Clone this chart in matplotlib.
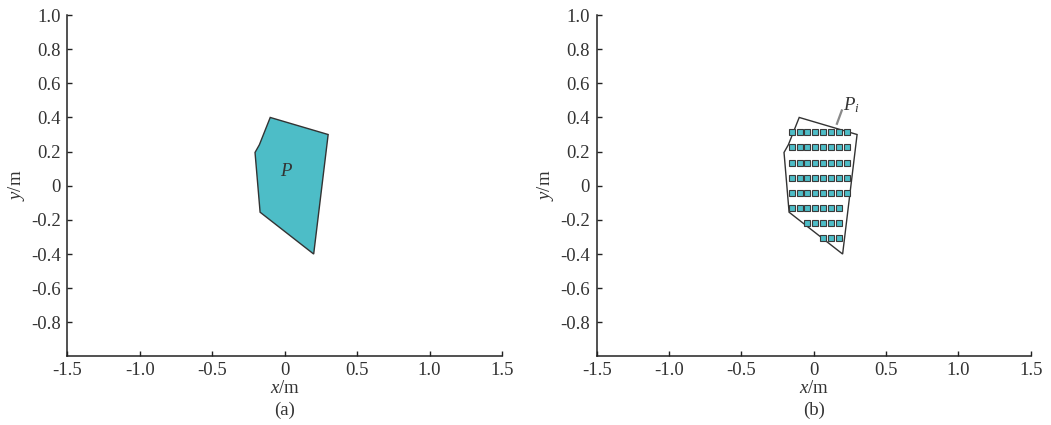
import matplotlib
matplotlib.use("Agg")
import matplotlib.pyplot as plt
from matplotlib.patches import Polygon

plt.rcParams['font.family'] = ['Liberation Serif', 'DejaVu Serif']
plt.rcParams['mathtext.fontset'] = 'custom'
plt.rcParams['mathtext.it'] = 'Liberation Serif:italic'
plt.rcParams['mathtext.rm'] = 'Liberation Serif'
plt.rcParams['axes.unicode_minus'] = False

# ---- data ----
poly_x = [-0.10, 0.30, 0.20, -0.17, -0.205, -0.175]
poly_y = [0.40, 0.30, -0.40, -0.155, 0.195, 0.24]

cell_cols = [-0.153, -0.098, -0.043, 0.012, 0.067, 0.122, 0.177, 0.232]
cell_rows = [0.312, 0.224, 0.136, 0.048, -0.040, -0.128, -0.218, -0.306]
# column index range [first, last] used in each row
row_first = [0, 0, 0, 0, 0, 0, 2, 4]
row_last = [7, 7, 7, 7, 7, 6, 6, 6]

# leader line for the P_i label (from polygon edge to label)
leader_x = [0.158, 0.197]
leader_y = [0.357, 0.447]
label_pos = (0.258, 0.47)

x_ticks = [-1.5, -1.0, -0.5, 0, 0.5, 1.0, 1.5]
x_ticklabels = ['-1.5', '-1.0', '-0.5', '0', '0.5', '1.0', '1.5']
y_ticks = [1.0, 0.8, 0.6, 0.4, 0.2, 0, -0.2, -0.4, -0.6, -0.8]
y_ticklabels = ['1.0', '0.8', '0.6', '0.4', '0.2', '0', '-0.2', '-0.4', '-0.6', '-0.8']
panel_tags = ['(a)', '(b)']

fill_color = '#4dbdc7'
edge_color = '#333333'
fs = 13.5

fig = plt.figure(figsize=(10.51, 4.25), dpi=100)
ax_a = fig.add_axes([0.0642, 0.1612, 0.4134, 0.8035])
ax_b = fig.add_axes([0.5677, 0.1612, 0.4130, 0.8035])

for ax, tag in zip([ax_a, ax_b], panel_tags):
    ax.set_xlim(-1.5, 1.5)
    ax.set_ylim(-1.0, 1.0)
    for s in ['top', 'right']:
        ax.spines[s].set_visible(False)
    for s in ['left', 'bottom']:
        ax.spines[s].set_linewidth(1.1)
        ax.spines[s].set_color('#222222')
    ax.set_xticks(x_ticks)
    ax.set_xticklabels(x_ticklabels, fontsize=fs, color='#333333')
    ax.set_yticks(y_ticks)
    ax.set_yticklabels(y_ticklabels, fontsize=fs, color='#333333')
    ax.tick_params(axis='both', direction='in', length=3.5, width=1.0, color='#222222')
    ax.tick_params(axis='x', pad=4)
    ax.tick_params(axis='y', pad=5)
    ax.set_xlabel(r'$x$/m', fontsize=fs, labelpad=1, color='#333333')
    ax.set_ylabel(r'$y$/m', fontsize=fs, labelpad=3, color='#333333')
    ax.text(0.5, -0.158, tag, transform=ax.transAxes, ha='center', va='center',
            fontsize=fs, color='#333333')

# (a) filled polygon
ax_a.add_patch(Polygon(list(zip(poly_x, poly_y)), closed=True, facecolor=fill_color,
                       edgecolor=edge_color, linewidth=1.0, zorder=2))
ax_a.text(0.015, 0.085, r'$P$', fontsize=fs, ha='center', va='center', color='#333333', zorder=3)

# (b) outline polygon with grid cells
ax_b.add_patch(Polygon(list(zip(poly_x, poly_y)), closed=True, facecolor='none',
                       edgecolor=edge_color, linewidth=1.0, zorder=2))
for y, a, b in zip(cell_rows, row_first, row_last):
    xs = cell_cols[a:b + 1]
    ax_b.plot(xs, [y] * len(xs), linestyle='none', marker='s', markersize=3.7,
              markerfacecolor=fill_color, markeredgecolor='#3a3a3a',
              markeredgewidth=0.8, zorder=3)
ax_b.plot(leader_x, leader_y, color='#8a8a8a', lw=1.6, zorder=3, solid_capstyle='butt')
ax_b.text(label_pos[0], label_pos[1], r'$P_i$', fontsize=fs, ha='center', va='center',
          color='#333333')

fig.savefig('out.png', dpi=100, facecolor='white')
